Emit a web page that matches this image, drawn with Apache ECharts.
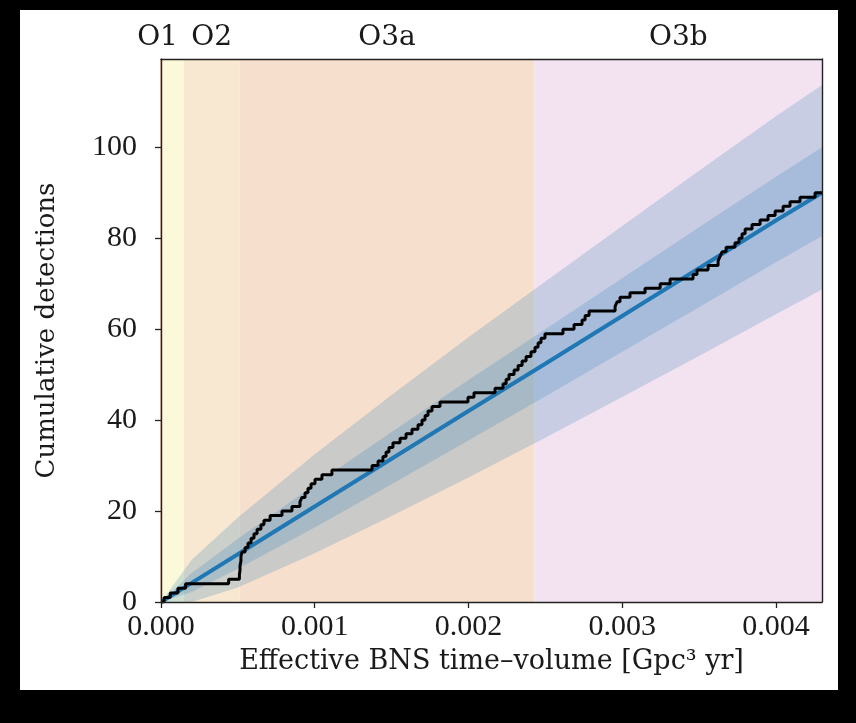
<!DOCTYPE html>
<html>
<head>
<meta charset="utf-8">
<script src="https://cdn.jsdelivr.net/npm/echarts@6/dist/echarts.min.js"></script>
<style>
html,body{margin:0;padding:0;background:#000;}
#main{width:856px;height:723px;}
</style>
</head>
<body>
<div id="main"></div>
<script>
// ---- data ----
const runNames = ['O1', 'O2', 'O3a', 'O3b'];
const runEdges = [0, 0.00015, 0.00051, 0.00243, 0.0043];
const xMax = 0.0043;
const yMax = 119.4;
const xTicks = [0, 0.001, 0.002, 0.003, 0.004];
const yTicks = [0, 20, 40, 60, 80, 100];

// time-volume at which the cumulative detection count reaches 1, 2, 3, ...
const eventX = [
  0.00002, 0.00006, 0.00011, 0.00016, 0.00044, 0.00051, 0.000514, 0.000514, 0.00052, 0.00052,
  0.000527, 0.000547, 0.000566, 0.000586, 0.000605, 0.000625, 0.00065, 0.00067, 0.00071, 0.000787,
  0.000852, 0.000904, 0.000917, 0.000937, 0.000956, 0.000976, 0.001002, 0.001047, 0.001112, 0.001373,
  0.001412, 0.001444, 0.001464, 0.001483, 0.001509, 0.001555, 0.001594, 0.001633, 0.001672, 0.001698,
  0.001718, 0.001737, 0.001763, 0.001815, 0.001997, 0.002036, 0.002173, 0.002225, 0.002245, 0.002264,
  0.002297, 0.002323, 0.002349, 0.002375, 0.002407, 0.002433, 0.002453, 0.002472, 0.002498, 0.002615,
  0.002687, 0.002739, 0.002759, 0.002785, 0.002954, 0.002967, 0.002986, 0.003051, 0.003149, 0.003247,
  0.003312, 0.003461, 0.003487, 0.003559, 0.003624, 0.003637, 0.00365, 0.003676, 0.003734, 0.00376,
  0.00378, 0.0038, 0.003845, 0.003897, 0.003949, 0.003995, 0.004047, 0.004092, 0.004157, 0.004255
];

// expected detections (blue line) and credible bands
const bandX      = [0, 0.0002, 0.0005, 0.001, 0.0015, 0.002, 0.0025, 0.003, 0.0035, 0.004, 0.0043];
const expectedY  = [0, 4.2, 10.5, 21.0, 31.5, 42.0, 52.4, 62.9, 73.4, 83.9, 90.0];
const innerLo    = [0, 2.2, 7.3, 16.4, 25.9, 35.5, 45.2, 55.0, 64.8, 74.7, 80.5];
const innerHi    = [0, 6.4, 13.9, 25.8, 37.4, 48.8, 60.0, 71.2, 82.4, 93.5, 100.0];
const outerLo    = [0, 0, 3.2, 10.7, 18.9, 27.4, 36.1, 45.1, 54.1, 63.3, 68.7];
const outerHi    = [0, 9.3, 18.6, 32.5, 45.5, 58.2, 70.5, 82.7, 94.8, 106.8, 113.7];

// ---- styles ----
const FONT_NUM = '"Liberation Serif", "DejaVu Serif", serif';
const FONT_TXT = '"DejaVu Serif", "Liberation Serif", serif';
const TXT = '#1a1a1a';
const runFill = ['#fcf8da', '#f8e7d1', '#f6dfcd', '#f3e3f0'];
const runEdgeLine = ['#f1e2b4', '#efc49c', '#e5bfbd'];
const bandColor = 'rgba(31,119,180,0.2)';

const pairs = (xs, ys) => xs.map((x, i) => [x, ys[i]]);

const stepData = [[0, 0]].concat(eventX.map((x, i) => [x, i + 1]));
stepData.push([xMax, eventX.length]);

const areas = runNames.map((n, i) => [
  { name: n, xAxis: runEdges[i], itemStyle: { color: runFill[i] },
    label: { offset: i === 0 ? [-15, 0] : [0, 0] } },
  { xAxis: runEdges[i + 1] }
]);
const lines = runEdges.slice(1, -1).map((x, i) => ({ xAxis: x, lineStyle: { color: runEdgeLine[i] } }));

// band polygon drawn through the axes' own scales
function bandSeries(lo, hi, z) {
  return {
    type: 'custom', z: z, silent: true, data: [[0, 0]],
    renderItem: function (params, api) {
      const pts = [];
      for (let i = 0; i < bandX.length; i++) pts.push(api.coord([bandX[i], hi[i]]));
      for (let i = bandX.length - 1; i >= 0; i--) pts.push(api.coord([bandX[i], lo[i]]));
      return { type: 'polygon', shape: { points: pts }, style: { fill: bandColor } };
    }
  };
}

const chart = echarts.init(document.getElementById('main'), null, { renderer: 'canvas' });
const frameAxis = { show: true, onZero: false, lineStyle: { color: '#222', width: 1.4 } };

chart.setOption({
  backgroundColor: '#000',
  animation: false,
  graphic: [{ type: 'rect', z: -100, shape: { x: 20, y: 10, width: 818, height: 680 }, style: { fill: '#fff' } }],
  grid: { left: 161, right: 34, top: 59, bottom: 121 },
  xAxis: [{
    type: 'value', min: 0, max: xMax, interval: 0.001, z: 10,
    axisLine: frameAxis,
    axisTick: { show: true, length: 6, lineStyle: { color: '#222', width: 1.3 }, customValues: xTicks },
    axisLabel: { customValues: xTicks, formatter: v => v.toFixed(3), fontFamily: FONT_NUM, fontSize: 30, color: TXT, margin: 10 },
    splitLine: { show: false },
    name: 'Effective BNS time–volume [Gpc³ yr]', nameLocation: 'middle', nameGap: 46,
    nameTextStyle: { fontFamily: FONT_TXT, fontSize: 27, color: TXT }
  }, {
    type: 'value', position: 'top', min: 0, max: xMax, z: 10,
    axisLine: frameAxis, axisTick: { show: false }, axisLabel: { show: false }, splitLine: { show: false }
  }],
  yAxis: [{
    type: 'value', min: 0, max: yMax, interval: 20, z: 10,
    axisLine: frameAxis,
    axisTick: { show: true, length: 6, lineStyle: { color: '#222', width: 1.3 }, customValues: yTicks },
    axisLabel: { customValues: yTicks, fontFamily: FONT_NUM, fontSize: 30, color: TXT, margin: 24 },
    splitLine: { show: false },
    name: 'Cumulative detections', nameLocation: 'middle', nameGap: 101, nameRotate: 90,
    nameTextStyle: { fontFamily: FONT_TXT, fontSize: 26, color: TXT }
  }, {
    type: 'value', position: 'right', min: 0, max: yMax, z: 10,
    axisLine: frameAxis, axisTick: { show: false }, axisLabel: { show: false }, splitLine: { show: false }
  }],
  series: [
    {
      type: 'line', z: 1, data: [], silent: true,
      markArea: {
        silent: true,
        label: { show: true, position: 'top', distance: 7, fontFamily: FONT_TXT, fontSize: 28, color: TXT },
        data: areas
      },
      markLine: { silent: true, symbol: 'none', label: { show: false }, lineStyle: { type: 'solid', width: 1.5 }, data: lines }
    },
    bandSeries(outerLo, outerHi, 2),
    bandSeries(innerLo, innerHi, 3),
    { type: 'line', z: 4, symbol: 'none', data: pairs(bandX, expectedY), lineStyle: { color: '#1f77b4', width: 4 } },
    { type: 'line', z: 5, symbol: 'none', step: 'end', data: stepData, lineStyle: { color: '#000', width: 3 } }
  ]
});
</script>
</body>
</html>
